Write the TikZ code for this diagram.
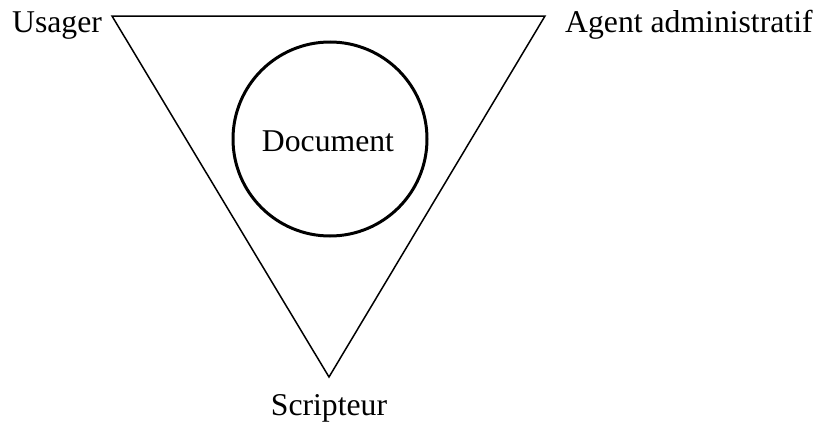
\documentclass[tikz,border=0pt]{standalone}
\usepackage{fontspec}
\setmainfont{Liberation Serif}
\begin{document}
\begin{tikzpicture}[x=1pt,y=-1pt,
  label text/.style={inner sep=0pt,font=\fontsize{31.7}{38}\selectfont},
  side/.style={line width=1.5pt,line join=miter},
  docring/.style={circle,draw,line width=3pt,minimum size=194pt,inner sep=0pt,
    font=\fontsize{31.7}{38}\selectfont}]
  \useasboundingbox (0,0) rectangle (817,423);
  % triangle corners
  \coordinate (tl) at (112,16);
  \coordinate (tr) at (545,16);
  \coordinate (bt) at (329,377);
  \draw[side] (tl) -- (tr) -- (bt) -- cycle;
  % central document
  \node[docring] (doc) at (330,139) {};
  \node[label text,anchor=base] (doclabel) at (328,151) {Document};
  % actors at the corners
  \node[label text,anchor=base west] (usager) at (12,32) {Usager};
  \node[label text,anchor=base west] (agent) at (565,32) {Agent administratif};
  \node[label text,anchor=base] (scripteur) at (329,415) {Scripteur};
\end{tikzpicture}
\end{document}
